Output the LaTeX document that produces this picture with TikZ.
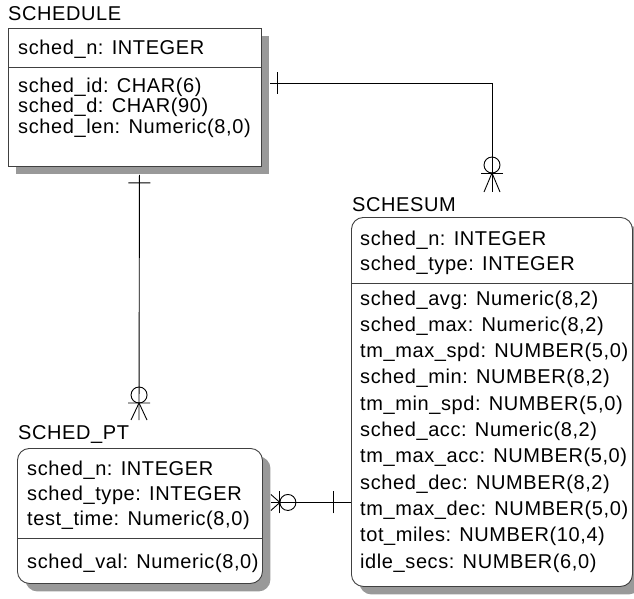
\documentclass[tikz,border=0pt]{standalone}
\usepackage{fontspec}
\setmainfont{Liberation Sans}[LetterSpace=3]
\usetikzlibrary{shadows}

\begin{document}
\begin{tikzpicture}[x=1pt,y=-1pt,
  every node/.style={font=\fontsize{20}{24}\selectfont},
  entity/.style={draw=black!75,line width=0.9pt,fill=white,anchor=north west,inner sep=0pt,
    drop shadow={shadow xshift=8pt,shadow yshift=-8pt,fill=black!40,opacity=1}},
  depent/.style={entity,rounded corners=12pt},
  attr/.style={anchor=base west,inner sep=0pt,text=black},
  divider/.style={draw=black!75,line width=0.9pt},
  rel/.style={draw=black,line width=0.9pt},
  onebar/.pic={\draw[rel] (#1,-11) -- (#1,11);},
  zmany/.pic={\draw[rel] (0,-8) -- (-#1,0) -- (0,8);
    \draw[rel] (-#1,-11) -- (-#1,11);
    \draw[rel] (-#1-8,0) circle[radius=8pt];},
  relmark/.style={sloped,allow upside down}]
\useasboundingbox (0,0) rectangle (634,598);

% SCHEDULE
\node[attr] (schedulet) at (8,20.5) {SCHEDULE};
\node[entity,minimum width=253pt,minimum height=138pt] (schedule) at (8,28) {};
\draw[divider] (schedule.west |- 0,67) -- (schedule.east |- 0,67);
\node[attr] (schedule1) at (18,54) {sched\_n: INTEGER};
\node[attr] (schedule2) at (18,92) {sched\_id: CHAR(6)};
\node[attr] (schedule3) at (18,112.5) {sched\_d: CHAR(90)};
\node[attr] (schedule4) at (18,133) {sched\_len: Numeric(8,0)};

% SCHESUM
\node[attr] (schesumt) at (352,211.5) {SCHESUM};
\node[depent,minimum width=281pt,minimum height=369pt] (schesum) at (351,217) {};
\draw[divider] (schesum.west |- 0,283) -- (schesum.east |- 0,283);
\node[attr] (schesum1) at (360,245) {sched\_n: INTEGER};
\node[attr] (schesum2) at (360,270) {sched\_type: INTEGER};
\node[attr] (schesum3) at (360,305) {sched\_avg: Numeric(8,2)};
\node[attr] (schesum4) at (360,331.3) {sched\_max: Numeric(8,2)};
\node[attr] (schesum5) at (360,357.6) {tm\_max\_spd: NUMBER(5,0)};
\node[attr] (schesum6) at (360,383.9) {sched\_min: NUMBER(8,2)};
\node[attr] (schesum7) at (360,410.2) {tm\_min\_spd: NUMBER(5,0)};
\node[attr] (schesum8) at (360,436.5) {sched\_acc: Numeric(8,2)};
\node[attr] (schesum9) at (360,462.8) {tm\_max\_acc: NUMBER(5,0)};
\node[attr] (schesum10) at (360,489.1) {sched\_dec: NUMBER(8,2)};
\node[attr] (schesum11) at (360,515.4) {tm\_max\_dec: NUMBER(5,0)};
\node[attr] (schesum12) at (360,541.7) {tot\_miles: NUMBER(10,4)};
\node[attr] (schesum13) at (360,568) {idle\_secs: NUMBER(6,0)};

% SCHED_PT
\node[attr] (schedptt) at (18,439) {SCHED\_PT};
\node[depent,minimum width=245pt,minimum height=135pt] (schedpt) at (17,448) {};
\draw[divider] (schedpt.west |- 0,538.5) -- (schedpt.east |- 0,538.5);
\node[attr] (schedpt1) at (27,475) {sched\_n: INTEGER};
\node[attr] (schedpt2) at (27,500) {sched\_type: INTEGER};
\node[attr] (schedpt3) at (27,525) {test\_time: Numeric(8,0)};
\node[attr] (schedpt4) at (27,568) {sched\_val: Numeric(8,0)};

% relationships
\coordinate (sumfoot) at (492,192);
\coordinate (ptfoot) at (139,420);
\draw[rel] ([xshift=8pt,yshift=14pt]schedule.east) -| (sumfoot)
  pic[pos=0,relmark]{onebar=8} pic[pos=1,relmark]{zmany=19};
\draw[rel] ([xshift=4.5pt,yshift=-8pt]schedule.south) -- (ptfoot)
  pic[pos=0,relmark]{onebar=8} pic[pos=1,relmark]{zmany=17};
\draw[rel] ([yshift=-100.5pt]schesum.west) -- ([xshift=8pt,yshift=13.5pt]schedpt.east)
  pic[pos=0,relmark]{onebar=18} pic[pos=1,relmark]{zmany=9};
\end{tikzpicture}
\end{document}
